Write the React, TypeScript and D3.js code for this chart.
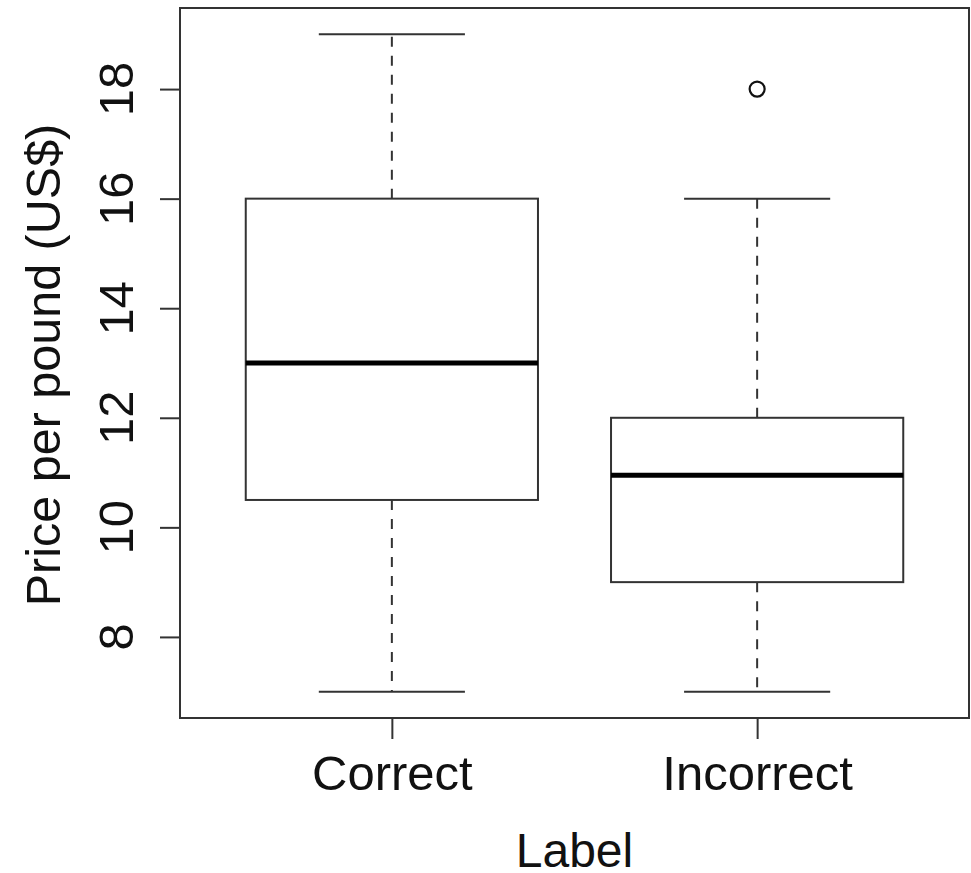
import React, { useRef, useEffect } from 'react';
import * as d3 from 'd3';

const categories = ['Correct', 'Incorrect'];
const lowerWhisker = [7, 7];
const q1 = [10.5, 9];
const medians = [13, 10.95];
const q3 = [16, 12];
const upperWhisker = [19, 16];
const outliers = [[], [18]];
const yTicks = [8, 10, 12, 14, 16, 18];

const FONT = 'Liberation Sans, Arial, sans-serif';

const App = () => {
    const ref = useRef(null);

    useEffect(() => {
        const svg = d3.select(ref.current);
        svg.selectAll("*").remove(); // Clear previous elements

        const left = 180, right = 969, top = 8, bottom = 718;

        // R style: xlim 0.5..n+0.5 extended 4%
        const x = d3.scaleLinear().domain([0.42, 2.58]).range([left, right]);
        const y = d3.scaleLinear().domain([6.52, 19.48]).range([bottom, top]);
        const boxW = x(0.8) - x(0);
        const capW = boxW / 2;
        const stroke = '#333';

        const data = categories.map((c, i) => ({
            name: c,
            pos: i + 1,
            lo: lowerWhisker[i],
            q1: q1[i],
            med: medians[i],
            q3: q3[i],
            hi: upperWhisker[i],
            out: outliers[i]
        }));

        const g = svg.append("g");

        data.forEach(d => {
            const cx = x(d.pos);
            // whiskers
            [[d.q3, d.hi], [d.q1, d.lo]].forEach(([a, b]) => {
                g.append("line")
                    .attr("x1", cx).attr("x2", cx)
                    .attr("y1", y(a)).attr("y2", y(b))
                    .attr("stroke", stroke).attr("stroke-width", 2)
                    .attr("stroke-dasharray", "10,9");
            });
            // staples
            [d.lo, d.hi].forEach(v => {
                g.append("line")
                    .attr("x1", cx - capW / 2).attr("x2", cx + capW / 2)
                    .attr("y1", y(v)).attr("y2", y(v))
                    .attr("stroke", stroke).attr("stroke-width", 2);
            });
            // box
            g.append("rect")
                .attr("x", cx - boxW / 2)
                .attr("y", y(d.q3))
                .attr("width", boxW)
                .attr("height", y(d.q1) - y(d.q3))
                .attr("fill", "white")
                .attr("stroke", stroke).attr("stroke-width", 2);
            // median
            g.append("line")
                .attr("x1", cx - boxW / 2).attr("x2", cx + boxW / 2)
                .attr("y1", y(d.med)).attr("y2", y(d.med))
                .attr("stroke", "#000").attr("stroke-width", 5);
            // outliers
            d.out.forEach(v => {
                g.append("circle")
                    .attr("cx", cx).attr("cy", y(v)).attr("r", 7.5)
                    .attr("fill", "none")
                    .attr("stroke", "#111").attr("stroke-width", 2.2);
            });
        });

        // frame
        svg.append("rect")
            .attr("x", left).attr("y", top)
            .attr("width", right - left).attr("height", bottom - top)
            .attr("fill", "none")
            .attr("stroke", stroke).attr("stroke-width", 2);

        // y axis
        const yAxis = svg.append("g")
            .attr("transform", `translate(${left},0)`)
            .call(d3.axisLeft(y).tickValues(yTicks).tickSize(20).tickSizeOuter(0));
        yAxis.select(".domain").remove();
        yAxis.selectAll(".tick line").attr("stroke", stroke).attr("stroke-width", 2);
        yAxis.selectAll(".tick text").remove();
        yTicks.forEach(t => {
            svg.append("text")
                .attr("transform", `translate(133,${y(t)}) rotate(-90)`)
                .attr("text-anchor", "middle")
                .attr("font-family", FONT)
                .attr("font-size", 49)
                .attr("fill", "#111")
                .text(t);
        });

        // x axis
        const xAxis = svg.append("g")
            .attr("transform", `translate(0,${bottom})`)
            .call(d3.axisBottom(x).tickValues(data.map(d => d.pos)).tickSize(21).tickSizeOuter(0)
                .tickFormat((v) => categories[+v - 1]));
        xAxis.select(".domain").remove();
        xAxis.selectAll(".tick line").attr("stroke", stroke).attr("stroke-width", 2);
        xAxis.selectAll(".tick text")
            .attr("y", 72)
            .attr("dy", 0)
            .attr("font-family", FONT)
            .attr("font-size", 49)
            .attr("fill", "#111");

        // axis titles
        svg.append("text")
            .attr("x", (left + right) / 2)
            .attr("y", 867)
            .attr("text-anchor", "middle")
            .attr("font-family", FONT)
            .attr("font-size", 48)
            .attr("fill", "#111")
            .text("Label");

        svg.append("text")
            .attr("transform", `translate(60,${(top + bottom) / 2 + 2}) rotate(-90)`)
            .attr("text-anchor", "middle")
            .attr("font-family", FONT)
            .attr("font-size", 48.5)
            .attr("fill", "#111")
            .text("Price per pound (US$)");
    }, []);

    return (
        <svg ref={ref} width="971" height="873"
            style={{ position: 'absolute', left: 0, top: 0, background: 'white' }}></svg>
    );
};

export default App;
